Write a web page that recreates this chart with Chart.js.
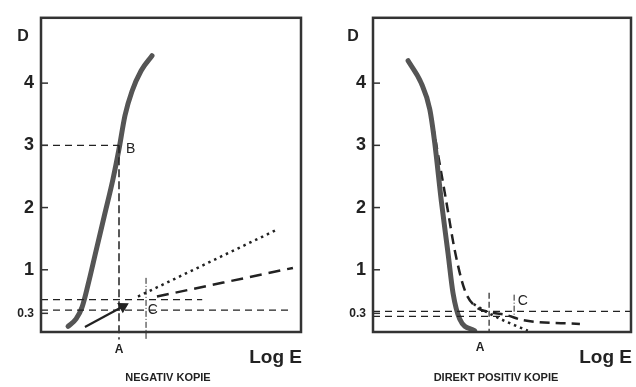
<!DOCTYPE html>
<html>
<head>
<meta charset="utf-8">
<script src="https://cdn.jsdelivr.net/npm/chart.js@4.4.1/dist/chart.umd.min.js"></script>
<style>
  html, body { margin: 0; padding: 0; background: #fff; }
  .wrap { position: relative; width: 636px; height: 387px; }
  .panel { position: absolute; top: 0; width: 318px; height: 387px; }
  #negPanel { left: 0; }
  #posPanel { left: 318px; }
</style>
</head>
<body>
<div class="wrap">
  <div class="panel" id="negPanel"><canvas id="negChart" width="318" height="387"></canvas></div>
  <div class="panel" id="posPanel"><canvas id="posChart" width="318" height="387"></canvas></div>
</div>
<script>
// y ticks (density D) shared by both panels
const yTicks = [0.3, 1, 2, 3, 4];

// --- NEGATIV KOPIE ---
const negCurveX = [1.04, 1.35, 1.58, 1.81, 2.12, 2.46, 2.77, 3.0, 3.23, 3.5, 3.85, 4.27];
const negCurveD = [0.09, 0.21, 0.40, 0.76, 1.31, 1.91, 2.46, 2.94, 3.48, 3.87, 4.2, 4.44];
const negDottedX = [3.73, 9.0];
const negDottedD = [0.57, 1.63];
const negDashedX = [4.46, 9.69];
const negDashedD = [0.57, 1.03];
const negArrowX = [1.69, 3.15];
const negArrowD = [0.08, 0.41];
const negGuideB = { x: [0, 3.0], d: [3.0, 3.0] };
const negGuideA = { x: [3.0, 3.0], d: [3.0, -0.12] };
const negGuideUpper = { x: [0, 6.2], d: [0.52, 0.52] };
const negGuideLower = { x: [0, 9.58], d: [0.35, 0.35] };
const negGuideC = { x: [4.04, 4.04], d: [0.87, -0.12] };

// --- DIREKT POSITIV KOPIE ---
const posCurveX = [1.36, 1.87, 2.20, 2.39, 2.65, 2.91, 3.10, 3.36, 3.94];
const posCurveD = [4.36, 4.0, 3.58, 3.05, 2.10, 1.26, 0.63, 0.21, 0.02];
const posDashedX = [2.2, 2.39, 2.84, 3.17, 3.55, 3.94, 4.53, 5.19, 5.81, 8.02];
const posDashedD = [3.6, 3.16, 2.10, 1.31, 0.68, 0.42, 0.32, 0.27, 0.19, 0.13];
const posDottedX = [3.9, 4.5, 5.2, 6.0];
const posDottedD = [0.45, 0.3, 0.16, 0.02];
const posGuideUpper = { x: [0, 10], d: [0.33, 0.33] };
const posGuideLower = { x: [0, 5.47], d: [0.25, 0.25] };
const posGuideA = { x: [4.5, 4.5], d: [0.63, 0] };
const posGuideC = { x: [5.47, 5.47], d: [0.6, 0.25] };

const FONT = "'Liberation Sans', Arial, sans-serif";
const INK = '#222';
const CURVE = '#555';

const pts = (xs, ds) => xs.map((x, i) => ({ x, y: ds[i] }));

function guide(g, dash, width = 1.2) {
  return {
    data: pts(g.x, g.d),
    borderColor: INK,
    borderWidth: width,
    borderDash: dash,
    pointRadius: 0,
    tension: 0,
    clip: false,
  };
}

function curve(xs, ds, opts) {
  return Object.assign({
    data: pts(xs, ds),
    borderColor: INK,
    borderWidth: 2.5,
    pointRadius: 0,
    tension: 0.4,
    cubicInterpolationMode: 'monotone',
    borderCapStyle: 'butt',
  }, opts);
}

const framePlugin = {
  id: 'frame',
  afterDraw(chart) {
    const { ctx, chartArea: a, scales } = chart;
    const cfg = chart.options.plugins.frame;
    ctx.save();
    ctx.strokeStyle = '#333';
    ctx.lineWidth = 2.5;
    ctx.strokeRect(a.left, a.top, a.right - a.left, a.bottom - a.top);
    // inward tick marks
    ctx.lineWidth = 1.5;
    yTicks.forEach((v) => {
      const y = scales.y.getPixelForValue(v);
      ctx.beginPath();
      ctx.moveTo(a.left, y);
      ctx.lineTo(a.left + 7, y);
      ctx.stroke();
    });
    // annotations at data positions
    ctx.fillStyle = INK;
    ctx.textAlign = 'center';
    ctx.textBaseline = 'middle';
    cfg.notes.forEach((n) => {
      ctx.font = n.font;
      ctx.fillText(n.text, scales.x.getPixelForValue(n.x), scales.y.getPixelForValue(n.y));
    });
    // axis names and caption
    ctx.font = `bold 16px ${FONT}`;
    ctx.fillText('D', a.left - cfg.dOffset, a.top + 19);
    ctx.textAlign = 'right';
    ctx.font = `bold 19px ${FONT}`;
    ctx.fillText('Log E', a.right + 1, a.bottom + 26);
    ctx.textAlign = 'center';
    ctx.font = `bold 11px ${FONT}`;
    ctx.fillText(cfg.caption, cfg.captionX, a.bottom + 46);
    ctx.restore();
  },
};

function makeChart(id, datasets, frame, yWidth, padRight) {
  return new Chart(document.getElementById(id), {
    type: 'line',
    data: { datasets },
    plugins: [framePlugin],
    options: {
      responsive: false,
      animation: false,
      events: [],
      layout: { padding: { top: 13, right: padRight, left: 0, bottom: 0 } },
      plugins: { legend: { display: false }, tooltip: { enabled: false }, frame },
      scales: {
        x: {
          type: 'linear',
          min: 0,
          max: 10,
          grid: { display: false },
          border: { display: false },
          ticks: { display: false },
          afterFit: (scale) => { scale.height = 55; },
        },
        y: {
          type: 'linear',
          min: 0,
          max: 5.05,
          grid: { display: false, drawTicks: false },
          border: { display: false },
          afterBuildTicks: (scale) => { scale.ticks = yTicks.map((value) => ({ value })); },
          afterFit: (scale) => { scale.width = yWidth; },
          ticks: {
            padding: 7,
            color: INK,
            callback: (v) => (v < 1 ? '0.3' : String(v)),
            font: (c) => ({
              family: FONT,
              weight: 'bold',
              size: c.tick && c.tick.value < 1 ? 12 : 18,
            }),
          },
        },
      },
    },
  });
}

makeChart('negChart', [
  guide(negGuideB, [7, 5]),
  guide(negGuideA, [8, 4], 1.5),
  guide(negGuideUpper, [7, 5]),
  guide(negGuideLower, [7, 5]),
  guide(negGuideC, [6, 2, 1, 2], 1),
  curve(negDottedX, negDottedD, { borderDash: [2.5, 4], tension: 0 }),
  curve(negDashedX, negDashedD, { borderDash: [12, 7], tension: 0 }),
  curve(negArrowX, negArrowD, {
    borderWidth: 2.2,
    tension: 0,
    pointStyle: 'triangle',
    pointRadius: [0, 4.5],
    pointRotation: 61,
    pointBackgroundColor: INK,
    pointBorderColor: INK,
  }),
  curve(negCurveX, negCurveD, { borderColor: CURVE, borderWidth: 5, borderCapStyle: 'round' }),
], {
  caption: 'NEGATIV KOPIE',
  captionX: 168,
  dOffset: 18,
  notes: [
    { text: 'B', x: 3.45, y: 2.94, font: `14px ${FONT}` },
    { text: 'C', x: 4.3, y: 0.35, font: `14px ${FONT}` },
    { text: 'A', x: 3.0, y: -0.28, font: `bold 12px ${FONT}` },
  ],
}, 41, 17);

makeChart('posChart', [
  guide(posGuideUpper, [7, 5]),
  guide(posGuideLower, [7, 5]),
  guide(posGuideA, [6, 3], 1.2),
  guide(posGuideC, [6, 2, 1, 2], 1),
  curve(posCurveX, posCurveD, { borderColor: CURVE, borderWidth: 5, borderCapStyle: 'round' }),
  curve(posDashedX, posDashedD, { borderDash: [10, 6] }),
  curve(posDottedX, posDottedD, { borderDash: [2.5, 4] }),
], {
  caption: 'DIREKT POSITIV KOPIE',
  captionX: 178,
  dOffset: 20,
  notes: [
    { text: 'C', x: 5.81, y: 0.49, font: `14px ${FONT}` },
    { text: 'A', x: 4.15, y: -0.26, font: `bold 12px ${FONT}` },
  ],
}, 55, 5);
</script>
</body>
</html>
